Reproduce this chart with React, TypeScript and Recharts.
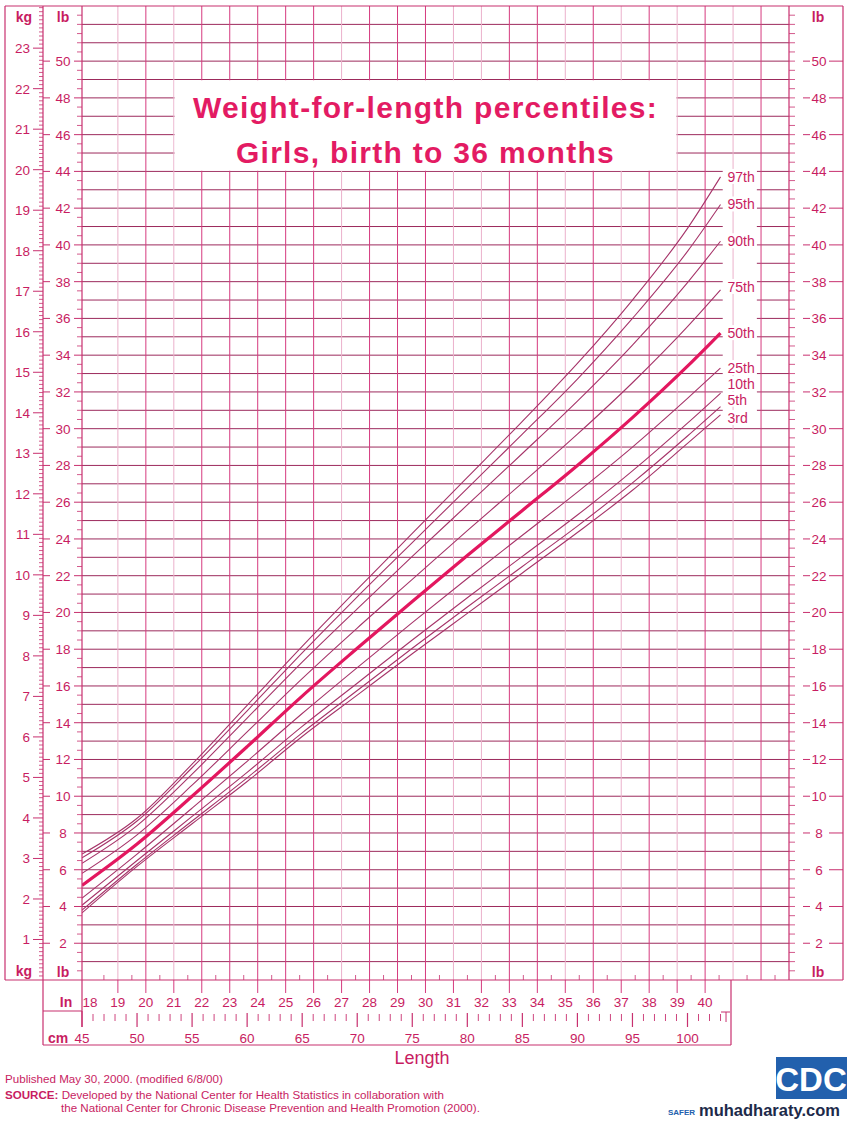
import React from "react";
import {
  ComposedChart,
  Line,
  XAxis,
  YAxis,
  ReferenceLine,
  ReferenceArea,
} from "recharts";

const W = 856;
const H = 1123;
const PLOT_BOTTOM = 980;

const CM_PER_IN = 2.54;
const LB_PER_KG = 2.20462;
const LB_MAX = 53;
const CM_MIN = 45;
const CM_MAX = 43 * CM_PER_IN; // right edge of the grid is 43 in

const FONT = "'Liberation Sans', Arial, Helvetica, sans-serif";
const GRID_H = "#9c2a5c";
const GRID_V = "#d63a7f";
const GRID_V_LIGHT = "#ebb0cb";
const FRAME = "#c8306f";
const TEXT = "#c81d62";
const TITLE = "#e31b63";
const CURVE = "#a63469";
const MEDIAN = "#e3175f";

const lengthCm = [45, 50, 55, 60, 65, 70, 75, 80, 85, 90, 95, 100, 103];

// weight (lb) per percentile
const p97 = [6.85, 8.8, 11.75, 14.95, 18.15, 21.25, 24.3, 27.35, 30.4, 33.55, 37.0, 40.9, 43.7];
const p95 = [6.65, 8.65, 11.55, 14.65, 17.8, 20.85, 23.8, 26.75, 29.7, 32.7, 36.0, 39.65, 42.2];
const p90 = [6.35, 8.4, 11.2, 14.25, 17.3, 20.2, 23.05, 25.85, 28.65, 31.5, 34.55, 37.95, 40.2];
const p75 = [5.8, 7.9, 10.6, 13.5, 16.4, 19.15, 21.8, 24.45, 27.05, 29.7, 32.5, 35.55, 37.55];
const p50 = [5.15, 7.4, 10.0, 12.7, 15.45, 18.05, 20.6, 23.1, 25.55, 28.0, 30.6, 33.4, 35.2];
const p25 = [4.45, 6.85, 9.35, 11.9, 14.5, 17.0, 19.45, 21.85, 24.2, 26.55, 29.0, 31.65, 33.3];
const p10 = [4.07, 6.5, 8.9, 11.3, 13.8, 16.15, 18.5, 20.8, 23.05, 25.3, 27.7, 30.3, 31.93];
const p5 = [3.8, 6.3, 8.65, 11.0, 13.45, 15.75, 18.05, 20.3, 22.5, 24.7, 27.05, 29.6, 31.2];
const p3 = [3.65, 6.18, 8.5, 10.8, 13.25, 15.5, 17.75, 19.95, 22.15, 24.35, 26.65, 29.2, 30.75];

const percentiles = [
  { key: "p97", name: "97th", values: p97 },
  { key: "p95", name: "95th", values: p95 },
  { key: "p90", name: "90th", values: p90 },
  { key: "p75", name: "75th", values: p75 },
  { key: "p50", name: "50th", values: p50 },
  { key: "p25", name: "25th", values: p25 },
  { key: "p10", name: "10th", values: p10 },
  { key: "p5", name: "5th", values: p5 },
  { key: "p3", name: "3rd", values: p3 },
];

// labels at the right end are spread a little where the curves crowd
const labelNudge: Record<string, number> = {
  p75: -3,
  p10: -9,
  p5: -7,
  p3: 3,
};

// tick labels
const kgLabels = [1, 2, 3, 4, 5, 6, 7, 8, 9, 10, 11, 12, 13, 14, 15, 16, 17, 18, 19, 20, 21, 22, 23];
const lbLabels = [2, 4, 6, 8, 10, 12, 14, 16, 18, 20, 22, 24, 26, 28, 30, 32, 34, 36, 38, 40, 42, 44, 46, 48, 50];
const inchLabels = [18, 19, 20, 21, 22, 23, 24, 25, 26, 27, 28, 29, 30, 31, 32, 33, 34, 35, 36, 37, 38, 39, 40];
const cmLabels = [45, 50, 55, 60, 65, 70, 75, 80, 85, 90, 95, 100];
const gridInches = [19, 20, 21, 22, 23, 24, 25, 26, 27, 28, 29, 30, 31, 32, 33, 34, 35, 36, 37, 38, 39, 40, 41, 42];
const lightInches = [19, 21, 27, 31, 32, 35, 37, 39, 41];
const CM_RULER_END = 103.5;

const rows = lengthCm.map((cm, i) => {
  const r: Record<string, number> = { cm };
  percentiles.forEach((p) => (r[p.key] = p.values[i]));
  return r;
});

// minor tick positions
const kgTicks: number[] = [];
for (let k = 1; k <= 240; k++) kgTicks.push(k / 10);
const lbTicks: number[] = [];
for (let k = 1; k <= 105; k++) lbTicks.push(k / 2);
const hGrid: number[] = [];
for (let v = 1; v <= 52; v++) hGrid.push(v);

const xTickKind = new Map<number, string>();
for (let h = 36; h <= 85; h++) xTickKind.set((h / 2) * CM_PER_IN, "in");
for (let c = 45; c <= 103; c++) xTickKind.set(c, "cm");
xTickKind.set(CM_RULER_END, "end");
const xTicks = Array.from(xTickKind.keys());

const kgLabelSet = new Set(kgLabels);
const lbLabelSet = new Set(lbLabels);
const inchLabelSet = new Set(inchLabels);
const cmLabelSet = new Set(cmLabels);

const axisText = { fontFamily: FONT, fontSize: 13.5, fill: TEXT };

function KgTick(props: any) {
  const { y, payload } = props;
  const v = payload.value;
  if (kgLabelSet.has(v)) {
    return (
      <g>
        <line x1={33} x2={43} y1={y} y2={y} stroke={FRAME} strokeWidth={1} />
        <text x={30} y={y + 5} textAnchor="end" {...axisText}>
          {v}
        </text>
      </g>
    );
  }
  return <line x1={39} x2={43} y1={y} y2={y} stroke={FRAME} strokeWidth={0.8} />;
}

function LbTick(props: any) {
  const { y, payload } = props;
  const v = payload.value;
  if (lbLabelSet.has(v)) {
    return (
      <g>
        <line x1={43} x2={50} y1={y} y2={y} stroke={FRAME} strokeWidth={1} />
        <text x={63} y={y + 5} textAnchor="middle" {...axisText}>
          {v}
        </text>
        <line x1={74} x2={82} y1={y} y2={y} stroke={FRAME} strokeWidth={1} />
      </g>
    );
  }
  return <line x1={77} x2={82} y1={y} y2={y} stroke={FRAME} strokeWidth={0.8} />;
}

function LbRightTick(props: any) {
  const { y, payload } = props;
  const v = payload.value;
  return (
    <g>
      <line x1={789} x2={795} y1={y} y2={y} stroke={FRAME} strokeWidth={0.8} />
      {lbLabelSet.has(v) && (
        <>
          <line x1={803} x2={810} y1={y} y2={y} stroke={FRAME} strokeWidth={1} />
          <text x={819} y={y + 5} textAnchor="middle" {...axisText}>
            {v}
          </text>
          <line x1={829} x2={843} y1={y} y2={y} stroke={FRAME} strokeWidth={1} />
        </>
      )}
    </g>
  );
}

function LengthTick(props: any) {
  const { x, payload } = props;
  const v = payload.value;
  const kind = xTickKind.get(v);
  if (kind === "in") {
    const inch = Math.round((v / CM_PER_IN) * 2) / 2;
    if (inch % 1 !== 0) {
      return <line x1={x} x2={x} y1={PLOT_BOTTOM - 5} y2={PLOT_BOTTOM} stroke={FRAME} strokeWidth={0.8} />;
    }
    return (
      <g>
        {inch >= 19 && inch <= 40 && (
          <line x1={x} x2={x} y1={PLOT_BOTTOM} y2={PLOT_BOTTOM + 13} stroke={GRID_V} strokeWidth={1} />
        )}
        {inchLabelSet.has(inch) && (
          <text x={x} y={1007} textAnchor="middle" {...axisText}>
            {inch}
          </text>
        )}
      </g>
    );
  }
  if (kind === "end") {
    return (
      <g>
        <line x1={x - 5} x2={x + 4} y1={1012} y2={1012} stroke={FRAME} strokeWidth={1} />
        <line x1={x} x2={x} y1={1012} y2={1022} stroke={FRAME} strokeWidth={1} />
      </g>
    );
  }
  if (cmLabelSet.has(v)) {
    return (
      <g>
        <line x1={x} x2={x} y1={v === 45 ? 1011 : 1013} y2={1027} stroke={FRAME} strokeWidth={1.2} />
        <text x={x} y={1043} textAnchor="middle" {...axisText}>
          {v}
        </text>
      </g>
    );
  }
  return <line x1={x} x2={x} y1={1014} y2={1021} stroke={FRAME} strokeWidth={0.9} />;
}

function renderTitle(props: any) {
  const vb = props.viewBox || {};
  const cx = vb.x + vb.width / 2;
  const style = {
    fontFamily: FONT,
    fontSize: 30,
    fontWeight: 700,
    fill: TITLE,
    letterSpacing: 1.3,
  };
  return (
    <g>
      <text x={cx} y={vb.y + 38} textAnchor="middle" {...style}>
        Weight-for-length percentiles:
      </text>
      <text x={cx} y={vb.y + 83} textAnchor="middle" {...style}>
        Girls, birth to 36 months
      </text>
    </g>
  );
}

function renderPctLabel(lp: any, key: string, name: string) {
  if (lp.index !== lengthCm.length - 1) return <g />;
  const y = lp.y + (labelNudge[key] || 0);
  return (
    <g>
      <rect x={lp.x + 5} y={y - 8} width={31} height={15} fill="#fff" />
      <text x={lp.x + 7} y={y + 5} fontFamily={FONT} fontSize={14} fill={TEXT}>
        {name}
      </text>
    </g>
  );
}

export default function App() {
  return (
    <div
      style={{
        position: "absolute",
        left: 0,
        top: 0,
        width: W,
        height: H,
        background: "#fff",
        fontFamily: FONT,
      }}
    >
      <ComposedChart
        width={W}
        height={H}
        data={rows}
        margin={{ top: 6, right: 13, bottom: 0, left: 5 }}
      >
        <XAxis
          xAxisId="len"
          dataKey="cm"
          type="number"
          domain={[CM_MIN, CM_MAX]}
          ticks={xTicks}
          interval={0}
          tick={(p: any) => <LengthTick {...p} />}
          tickLine={false}
          axisLine={false}
          height={143}
          allowDataOverflow
        />
        <YAxis
          yAxisId="kg"
          orientation="left"
          type="number"
          domain={[0, LB_MAX / LB_PER_KG]}
          ticks={kgTicks}
          interval={0}
          tick={(p: any) => <KgTick {...p} />}
          tickLine={false}
          axisLine={false}
          width={38}
          allowDataOverflow
        />
        <YAxis
          yAxisId="lb"
          orientation="left"
          type="number"
          domain={[0, LB_MAX]}
          ticks={lbTicks}
          interval={0}
          tick={(p: any) => <LbTick {...p} />}
          tickLine={false}
          axisLine={false}
          width={39}
          allowDataOverflow
        />
        <YAxis
          yAxisId="lbR"
          orientation="right"
          type="number"
          domain={[0, LB_MAX]}
          ticks={lbTicks}
          interval={0}
          tick={(p: any) => <LbRightTick {...p} />}
          tickLine={false}
          axisLine={false}
          width={54}
          allowDataOverflow
        />

        {hGrid.map((v) => (
          <ReferenceLine
            key={`h${v}`}
            xAxisId="len"
            yAxisId="lb"
            y={v}
            stroke={GRID_H}
            strokeWidth={1}
            zIndex={10}
          />
        ))}

        {/* blank column behind the percentile names */}
        <ReferenceArea
          xAxisId="len"
          yAxisId="lb"
          x1={103.2}
          x2={106.3}
          y1={30.3}
          y2={44.5}
          fill="#fff"
          fillOpacity={1}
          stroke="none"
          zIndex={20}
        />

        {gridInches.map((inch) => (
          <ReferenceLine
            key={`v${inch}`}
            xAxisId="len"
            yAxisId="lb"
            x={inch * CM_PER_IN}
            stroke={lightInches.includes(inch) ? GRID_V_LIGHT : GRID_V}
            strokeWidth={1}
            zIndex={30}
          />
        ))}

        <ReferenceArea
          xAxisId="len"
          yAxisId="lb"
          x1={21 * CM_PER_IN + 0.07}
          x2={39 * CM_PER_IN - 0.07}
          y1={44.04}
          y2={48.96}
          fill="#fff"
          fillOpacity={1}
          stroke="none"
          zIndex={40}
          label={renderTitle}
        />

        {percentiles.map((p) => (
          <Line
            key={p.key}
            xAxisId="len"
            yAxisId="lb"
            type="monotone"
            dataKey={p.key}
            stroke={p.key === "p50" ? MEDIAN : CURVE}
            strokeWidth={p.key === "p50" ? 3.2 : 1.1}
            dot={false}
            activeDot={false}
            isAnimationActive={false}
            label={(lp: any) => renderPctLabel(lp, p.key, p.name)}
          />
        ))}
      </ComposedChart>

      {/* frame, unit captions and footnotes */}
      <svg
        width={W}
        height={H}
        style={{ position: "absolute", left: 0, top: 0, pointerEvents: "none" }}
      >
        <g stroke={FRAME} strokeWidth={1.2} fill="none">
          <line x1={5} x2={843} y1={6} y2={6} />
          <line x1={5} x2={5} y1={6} y2={980} />
          <line x1={843} x2={843} y1={6} y2={980} />
          <line x1={5} x2={843} y1={980} y2={980} />
          <line x1={43} x2={43} y1={6} y2={1045} />
          <line x1={82} x2={82} y1={6} y2={1027} />
          <line x1={789} x2={789} y1={6} y2={980} />
          <line x1={43} x2={731} y1={1045} y2={1045} />
          <line x1={731} x2={731} y1={980} y2={1045} />
          <line x1={43} x2={82} y1={1011} y2={1011} />
        </g>
        <g fontFamily={FONT} fontSize={14} fontWeight={700} fill={TEXT} textAnchor="middle">
          <text x={24} y={22}>kg</text>
          <text x={63} y={22}>lb</text>
          <text x={818} y={22}>lb</text>
          <text x={24} y={976}>kg</text>
          <text x={63} y={977}>lb</text>
          <text x={818} y={977}>lb</text>
          <text x={66} y={1007}>In</text>
          <text x={58} y={1043}>cm</text>
        </g>
        <text x={422} y={1064} textAnchor="middle" fontFamily={FONT} fontSize={18} fill={TEXT}>
          Length
        </text>
        <g fontFamily={FONT} fontSize={11.6} fill={TEXT}>
          <text x={5} y={1083}>Published May 30, 2000. (modified 6/8/00)</text>
          <text x={5} y={1099}>
            <tspan fontWeight={700}>SOURCE:</tspan> Developed by the National Center for Health Statistics in collaboration with
          </text>
          <text x={61} y={1112}>
            the National Center for Chronic Disease Prevention and Health Promotion (2000).
          </text>
        </g>
        <rect x={776} y={1057} width={71} height={42} fill="#2260ad" />
        <text
          x={811}
          y={1091}
          textAnchor="middle"
          fontFamily={FONT}
          fontSize={33}
          fontWeight={700}
          fill="#fff"
        >
          CDC
        </text>
        <text x={668} y={1115} fontFamily={FONT} fontSize={8} fontWeight={700} fill="#2260ad">
          SAFER
        </text>
        <text x={699} y={1116} fontFamily={FONT} fontSize={16.5} fontWeight={700} fill="#1d2a4a">
          muhadharaty.com
        </text>
      </svg>
    </div>
  );
}
